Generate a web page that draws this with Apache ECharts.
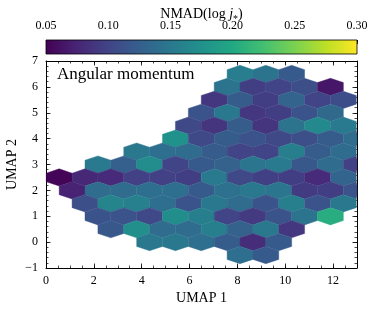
<!DOCTYPE html>
<html><head><meta charset="utf-8">
<script src="https://cdn.jsdelivr.net/npm/echarts@6/dist/echarts.min.js"></script>
<style>html,body{margin:0;padding:0;background:#fff}#c{width:375px;height:309px}</style>
</head><body><div id="c"></div>
<script>
// ---- data ----
const rowY = [6.5, 6.0, 5.5, 5.0, 4.5, 4.0, 3.5, 3.0, 2.5, 2.0, 1.5, 1.0, 0.5, 0.0, -0.5];
const rowFirstX = [8.11, 7.57, 7.03, 6.49, 5.95, 5.41, 3.79, 2.17, 0.55, 1.09, 1.63, 2.17, 2.71, 4.33, 8.11];
const hexPitchX = 1.08;   // hexbin cell width (data units)
const hexPitchY = 1.0;    // hexbin lattice height (data units)
const rowNMAD = [
  [0.155, 0.145, 0.12],
  [0.145, 0.095, 0.10, 0.11, 0.065],
  [0.09, 0.122, 0.095, 0.13, 0.10, 0.108],
  [0.115, 0.15, 0.09, 0.095, 0.115, 0.135],
  [0.105, 0.088, 0.122, 0.088, 0.145, 0.167, 0.152],
  [0.175, 0.105, 0.122, 0.115, 0.105, 0.11, 0.122, 0.138],
  [0.15, 0.14, 0.138, 0.122, 0.10, 0.10, 0.157, 0.122, 0.138],
  [0.152, 0.125, 0.17, 0.10, 0.12, 0.128, 0.148, 0.152, 0.118, 0.138, 0.098],
  [0.052, 0.078, 0.08, 0.098, 0.098, 0.095, 0.152, 0.105, 0.097, 0.095, 0.08, 0.13],
  [0.074, 0.138, 0.138, 0.14, 0.14, 0.12, 0.143, 0.15, 0.148, 0.093, 0.095, 0.115],
  [0.11, 0.162, 0.158, 0.14, 0.115, 0.15, 0.138, 0.115, 0.157, 0.115, 0.15],
  [0.115, 0.115, 0.105, 0.172, 0.157, 0.10, 0.092, 0.115, 0.145, 0.205],
  [0.118, 0.173, 0.138, 0.138, 0.157, 0.128, 0.15, 0.09],
  [0.15, 0.15, 0.14, 0.122, 0.082, 0.12],
  [0.14, 0.12]
];
const colorMin = 0.05, colorMax = 0.30;
const colorTicks = [0.05, 0.10, 0.15, 0.20, 0.25, 0.30];
const xTicks = [0, 2, 4, 6, 8, 10, 12];
const yTicks = [-1, 0, 1, 2, 3, 4, 5, 6, 7];
const viridis = ['#440154','#482475','#414487','#355f8d','#2a788e','#21918c','#22a884','#44bf70','#7ad151','#bddf26','#fde725'];
const panelLabel = 'Angular momentum';

// ---- build ----
const hexData = [];
rowY.forEach((y, r) => {
  rowNMAD[r].forEach((v, k) => hexData.push([rowFirstX[r] + k * hexPitchX, y, v]));
});

const FF = 'Liberation Serif';
const chart = echarts.init(document.getElementById('c'), null, {renderer: 'canvas'});

function axisBase(extra) {
  return Object.assign({
    type: 'value', splitLine: {show: false},
    axisLine: {show: false, onZero: false, lineStyle: {color: '#000', width: 1}},
    axisTick: {show: true, inside: true, length: 4.5, lineStyle: {color: '#000', width: 0.8}},
    axisLabel: {show: false}
  }, extra);
}
const lbl = {show: true, color: '#000', fontFamily: FF, fontSize: 12};
const minorTick = {show: true, inside: true, length: 2.5, lineStyle: {color: '#000', width: 0.7}};

const xMin = xTicks[0], xMax = 13, yMin = yTicks[0], yMax = yTicks[yTicks.length - 1];
const xStep = xTicks[1] - xTicks[0], yStep = yTicks[1] - yTicks[0];

const option = {
  animation: false,
  backgroundColor: '#fff',
  grid: [
    {left: 46, right: 18, top: 61, bottom: 41, show: false, containLabel: false, outerBoundsMode: 'none'},
    {left: 46, right: 18, top: 40, height: 14, show: false, containLabel: false, outerBoundsMode: 'none'}
  ],
  xAxis: [
    axisBase({gridIndex: 0, min: xMin, max: xMax, interval: xStep, position: 'bottom',
      axisLine: {show: true, onZero: false, lineStyle: {color: '#000', width: 1}},
      axisLabel: Object.assign({}, lbl, {margin: 7, showMaxLabel: false}),
      name: 'UMAP 1', nameLocation: 'middle', nameGap: 23, nameMoveOverlap: false,
      nameTextStyle: {color: '#000', fontFamily: FF, fontSize: 14}}),
    axisBase({gridIndex: 0, min: xMin, max: xMax, interval: xStep / 4, position: 'bottom', axisTick: minorTick}),
    axisBase({gridIndex: 0, min: xMin, max: xMax, interval: xStep, position: 'top',
      axisLine: {show: true, onZero: false, lineStyle: {color: '#000', width: 1}}}),
    axisBase({gridIndex: 0, min: xMin, max: xMax, interval: xStep / 4, position: 'top', axisTick: minorTick}),
    axisBase({gridIndex: 1, min: colorMin, max: colorMax, interval: colorTicks[1] - colorTicks[0], position: 'top',
      axisTick: {show: true, inside: true, length: 4, lineStyle: {color: '#000', width: 0.8}},
      axisLabel: Object.assign({}, lbl, {margin: 8, formatter: v => v.toFixed(2)})}),
    axisBase({gridIndex: 1, min: colorMin, max: colorMax, interval: 0.01, position: 'top',
      axisTick: {show: true, inside: true, length: 2, lineStyle: {color: '#000', width: 0.7}}})
  ],
  yAxis: [
    axisBase({gridIndex: 0, min: yMin, max: yMax, interval: yStep, position: 'left',
      axisLine: {show: true, onZero: false, lineStyle: {color: '#000', width: 1}},
      axisLabel: Object.assign({}, lbl, {margin: 8, formatter: v => String(v).replace('-', '\u2212')}),
      name: 'UMAP 2', nameLocation: 'middle', nameGap: 27, nameRotate: 90, nameMoveOverlap: false,
      nameTextStyle: {color: '#000', fontFamily: FF, fontSize: 14}}),
    axisBase({gridIndex: 0, min: yMin, max: yMax, interval: yStep / 5, position: 'left', axisTick: minorTick}),
    axisBase({gridIndex: 0, min: yMin, max: yMax, interval: yStep, position: 'right',
      axisLine: {show: true, onZero: false, lineStyle: {color: '#000', width: 1}}}),
    axisBase({gridIndex: 0, min: yMin, max: yMax, interval: yStep / 5, position: 'right', axisTick: minorTick}),
    {type: 'value', gridIndex: 1, min: 0, max: 1, show: false}
  ],
  visualMap: {
    show: false, type: 'continuous', min: colorMin, max: colorMax, dimension: 2, seriesIndex: 0,
    inRange: {color: viridis}
  },
  graphic: [
    {type: 'text', left: 57, top: 66, style: {text: panelLabel, font: '17px "Liberation Serif"', fill: '#000'}},
    {type: 'text', x: 201.5, y: 5, style: {
      text: '{a|NMAD(log }{i|j}{s|*}{a|)}', align: 'center', fill: '#000',
      rich: {
        a: {fontFamily: FF, fontSize: 14, lineHeight: 16, verticalAlign: 'bottom'},
        i: {fontFamily: FF, fontSize: 14, fontStyle: 'italic', lineHeight: 16, verticalAlign: 'bottom'},
        s: {fontFamily: FF, fontSize: 10, lineHeight: 11, verticalAlign: 'bottom', padding: [0, 0, -3, 0]}
      }}}
  ],
  series: [
    {
      type: 'custom', xAxisIndex: 0, yAxisIndex: 0, data: hexData,
      renderItem: function (params, api) {
        const x = api.value(0), y = api.value(1);
        const hw = hexPitchX / 2, a = hexPitchY / 6, b = hexPitchY / 3;
        const pts = [[x + hw, y - a], [x + hw, y + a], [x, y + b], [x - hw, y + a], [x - hw, y - a], [x, y - b]]
          .map(p => api.coord(p));
        const cs = params.coordSys;
        const clipped = echarts.graphic.clipPointsByRect(pts, {x: cs.x, y: cs.y, width: cs.width, height: cs.height});
        const c = api.visual('color');
        return {type: 'polygon', shape: {points: clipped}, style: {fill: c, stroke: c, lineWidth: 0.4}};
      }
    },
    {
      type: 'custom', xAxisIndex: 4, yAxisIndex: 4, data: [[colorMin, colorMax]],
      renderItem: function (params, api) {
        const p0 = api.coord([api.value(0), 1]);
        const p1 = api.coord([api.value(1), 0]);
        const stops = viridis.map((c, i) => ({offset: i / (viridis.length - 1), color: c}));
        return {
          type: 'rect', z2: 0,
          shape: {x: p0[0], y: p0[1], width: p1[0] - p0[0], height: p1[1] - p0[1]},
          style: {fill: new echarts.graphic.LinearGradient(0, 0, 1, 0, stops), stroke: '#000', lineWidth: 0.8}
        };
      }
    }
  ]
};
chart.setOption(option);
</script></body></html>
